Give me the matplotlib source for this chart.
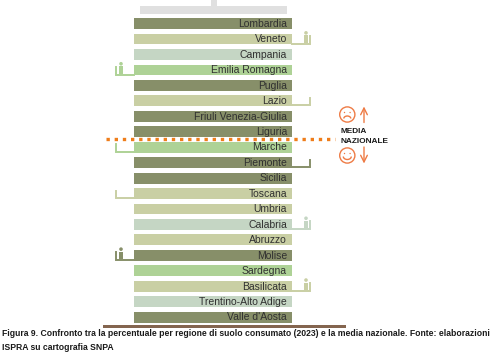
import matplotlib
matplotlib.use('Agg')
import matplotlib.pyplot as plt
from matplotlib.patches import Arc, Circle, Rectangle

plt.rcParams['font.family'] = ['Liberation Sans Narrow', 'Liberation Sans', 'DejaVu Sans']

# Data
regioni = ['Lombardia', 'Veneto', 'Campania', 'Emilia Romagna', 'Puglia', 'Lazio',
           'Friuli Venezia-Giulia', 'Liguria', 'Marche', 'Piemonte', 'Sicilia', 'Toscana',
           'Umbria', 'Calabria', 'Abruzzo', 'Molise', 'Sardegna', 'Basilicata',
           'Trentino-Alto Adige', "Valle d'Aosta"]
gruppi = ['scuro', 'chiaro', 'pallido', 'verde', 'scuro', 'chiaro',
          'scuro', 'scuro', 'verde', 'scuro', 'scuro', 'chiaro',
          'chiaro', 'pallido', 'chiaro', 'scuro', 'verde', 'chiaro',
          'pallido', 'scuro']
lati = ['', 'dx', '', 'sx', '', 'dx', '', '', 'sx', 'dx', '', 'sx',
        '', 'dx', '', 'sx', '', 'dx', '', '']
omini = ['Veneto', 'Emilia Romagna', 'Calabria', 'Molise', 'Basilicata']

colori = {'scuro': '#878f69', 'chiaro': '#c9cfa4', 'pallido': '#c5d6c4', 'verde': '#aed296'}
ARANCIO = '#ee7b45'

# Layout in pixels of the original picture
W, H = 499, 354
Y0 = 23.6
STEP = 15.45
H_BAR = 10.8
X1, X2 = 134, 292

fig = plt.figure(figsize=(W / 100, H / 100), dpi=100)
ax = fig.add_axes([0, 0, 1, 1])
ax.set_xlim(0, W)
ax.set_ylim(H, 0)
ax.axis('off')

# Grey top and brown bottom band
ax.add_patch(Rectangle((140, 6), 147, 8, color='#e0e0e0', lw=0))
ax.add_patch(Rectangle((211, 0), 6, 6, color='#e0e0e0', lw=0))
ax.add_patch(Rectangle((103, 325), 243, 3, color='#84654f', lw=0))

for i, (nome, gruppo, lato) in enumerate(zip(regioni, gruppi, lati)):
    y = Y0 + i * STEP
    col = colori[gruppo]
    ax.barh(y, X2 - X1, left=X1, height=H_BAR, color=col, lw=0)
    ax.text(287, y + 0.3, nome, ha='right', va='center', fontsize=7.45, color='#303030')

    if lato == 'dx':
        ax.plot([X2, 310.5, 310.5], [y + 4.6, y + 4.6, y - 3], color=col, lw=1.4, solid_joinstyle='miter')
        xo = 306
    elif lato == 'sx':
        ax.plot([X1, 116.5, 116.5], [y + 4.6, y + 4.6, y - 3], color=col, lw=1.4, solid_joinstyle='miter')
        xo = 121
    if nome in omini:
        ax.add_patch(Circle((xo, y - 6.2), 1.8, color=col, lw=0))
        ax.add_patch(Rectangle((xo - 2, y - 3.6), 4, 7.5, color=col, lw=0))

# National average line
ax.plot([106, 335], [139.3, 139.3], color='#ef7d1a', lw=2.4, ls=(0, (1, 1.45)))

# Legend on the right
ax.text(341, 131.5, 'MEDIA', fontsize=5.95, fontweight='bold', family=['Liberation Sans'],
        ha='left', va='center', color='#1a1a1a')
ax.text(341, 141.5, 'NAZIONALE', fontsize=5.95, fontweight='bold', family=['Liberation Sans'],
        ha='left', va='center', color='#1a1a1a')

for yc, triste in [(114.5, True), (155.5, False)]:
    ax.add_patch(Circle((347.3, yc), 7.6, fill=False, ec=ARANCIO, lw=1))
    ax.add_patch(Circle((344.5, yc - 2), 0.7, color=ARANCIO, lw=0))
    ax.add_patch(Circle((350.1, yc - 2), 0.7, color=ARANCIO, lw=0))
    if triste:
        ax.add_patch(Arc((347.3, yc + 4), 7, 5, theta1=180, theta2=360, ec=ARANCIO, lw=1))
    else:
        ax.add_patch(Arc((347.3, yc + 1), 8, 6, theta1=0, theta2=180, ec=ARANCIO, lw=1))

ax.annotate('', xy=(364, 106.5), xytext=(364, 122.5),
            arrowprops=dict(arrowstyle='->', color=ARANCIO, lw=1, mutation_scale=12, shrinkA=0, shrinkB=0))
ax.annotate('', xy=(364, 163.5), xytext=(364, 147),
            arrowprops=dict(arrowstyle='->', color=ARANCIO, lw=1, mutation_scale=12, shrinkA=0, shrinkB=0))

# Caption
ax.text(2, 333.5, 'Figura 9. Confronto tra la percentuale per regione di suolo consumato (2023) e la media nazionale. Fonte: elaborazioni',
        fontsize=6.2, fontweight='bold', ha='left', va='center', color='#1a1a1a')
ax.text(2, 347.5, 'ISPRA su cartografia SNPA',
        fontsize=6.2, fontweight='bold', ha='left', va='center', color='#1a1a1a')

fig.savefig('out.png', dpi=100)
